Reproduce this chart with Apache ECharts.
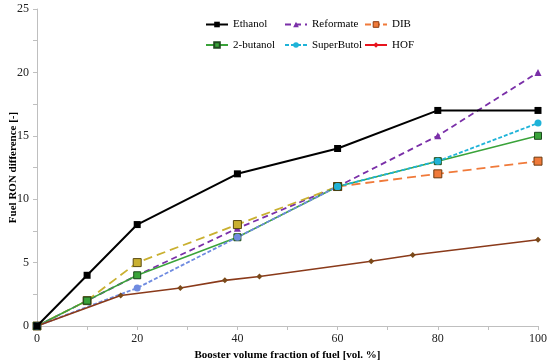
<!DOCTYPE html>
<html><head><meta charset="utf-8">
<script src="https://cdn.jsdelivr.net/npm/echarts@6/dist/echarts.min.js"></script>
<style>html,body{margin:0;padding:0;background:#fff}#c{width:550px;height:362px}</style>
</head><body><div id="c"></div>
<script>
var fractions = [0, 10, 20, 40, 60, 80, 100];
var ethanol = [0, 4, 8, 12, 14, 17, 17];
var reformate = [0, 2, 4, 7.7, 11, 15, 20];
var dib = [0, 2, 5, 8, 11, 12, 13];
var butanol2 = [0, 2, 4, 7, 11, 13, 15];
var superFractions = [0, 20, 40, 60, 80, 100];
var superButol = [0, 3, 7, 11, 13, 16];
var hofFractions = [0, 16.7, 28.6, 37.5, 44.4, 66.7, 75, 100];
var hof = [0, 2.4, 3, 3.6, 3.9, 5.1, 5.6, 6.8];
var xTicks = [0, 20, 40, 60, 80, 100];
var yTicks = [0, 5, 10, 15, 20, 25];

function pairs(xs, ys){ return xs.map(function(x,i){return [x, ys[i]];}); }
function upTo(xs, ys, lim){ return pairs(xs, ys).filter(function(p){return p[0] <= lim;}); }
function from(xs, ys, lim){ return pairs(xs, ys).filter(function(p){return p[0] >= lim;}); }
var serif = 'Liberation Serif';

var chart = echarts.init(document.getElementById('c'));
var legendText = {fontFamily: serif, fontSize: 11, color: '#000'};
function col(left, names){
  return {orient:'vertical', left:left, top:14, itemWidth:22, itemHeight:7, itemGap:9.5,
    textStyle: legendText, data: names, selectedMode:false};
}
chart.setOption({
  animation:false,
  grid:{left:37, right:12, top:9, bottom:36, outerBoundsMode:'none', containLabel:false},
  legend:[
    col(200, ['Ethanol','2-butanol']),
    col(279, [{name:'Reformate'}, {name:'SuperButol', itemStyle:{color:'#1fb3d8'}, lineStyle:{color:'#1fb3d8', type:[4,2]}}]),
    col(359, [{name:'DIB', itemStyle:{color:'#f07a3a', borderColor:'#8a3b10', borderWidth:1}, lineStyle:{color:'#f07a3a', type:[6,3]}},
              {name:'HOF', itemStyle:{color:'#e8141e'}, lineStyle:{color:'#e8141e'}}])
  ],
  xAxis:{type:'value', min:0, max:100, interval:10,
    name:'Booster volume fraction of fuel [vol. %]', nameLocation:'middle', nameGap:24, nameMoveOverlap:false,
    nameTextStyle:{fontFamily:serif, fontWeight:'bold', fontSize:11, color:'#000'},
    axisLine:{lineStyle:{color:'#bfbfbf'}}, axisTick:{length:4, lineStyle:{color:'#bfbfbf'}},
    splitLine:{show:false},
    axisLabel:{fontFamily:serif, fontSize:12, color:'#222', margin:7,
      formatter:function(v){return xTicks.indexOf(v)>=0 ? String(v) : '';}}},
  yAxis:{type:'value', min:0, max:25, interval:2.5,
    name:'Fuel RON difference [-]', nameLocation:'middle', nameGap:18, nameMoveOverlap:false,
    nameTextStyle:{fontFamily:serif, fontWeight:'bold', fontSize:11, color:'#000'},
    axisLine:{show:true, lineStyle:{color:'#bfbfbf'}}, axisTick:{show:true, length:4, lineStyle:{color:'#bfbfbf'}},
    splitLine:{show:false},
    axisLabel:{fontFamily:serif, fontSize:12, color:'#222', margin:8,
      formatter:function(v){return yTicks.indexOf(v)>=0 ? String(v) : '';}}},
  series:[
    {name:'Ethanol', type:'line', data:pairs(fractions, ethanol), color:'#000',
     symbol:'rect', symbolSize:7, lineStyle:{width:2, color:'#000'}, itemStyle:{color:'#000'}, z:5},
    {name:'Reformate', type:'line', data:pairs(fractions, reformate), color:'#7a2fa8',
     symbol:'triangle', symbolSize:7, lineStyle:{width:1.8, type:[6,4], color:'#7a2fa8'}, itemStyle:{color:'#7a2fa8'}, z:3},
    {name:'DIB', type:'line', data:upTo(fractions, dib, 60), color:'#c9b030',
     symbol:'rect', symbolSize:8, lineStyle:{width:1.8, type:[9,5], color:'#c9b030'},
     itemStyle:{color:'#c9b030', borderColor:'#5a4a10', borderWidth:1}, z:4},
    {name:'DIB', type:'line', data:from(fractions, dib, 60), color:'#f07a3a',
     symbol:'rect', symbolSize:8, lineStyle:{width:1.8, type:[9,5], color:'#f07a3a'},
     itemStyle:{color:'#f07a3a', borderColor:'#6b3b10', borderWidth:1}, z:4},
    {name:'2-butanol', type:'line', data:pairs(fractions, butanol2), color:'#3aa33a',
     symbol:'rect', symbolSize:7, lineStyle:{width:1.5, color:'#3aa33a'}, itemStyle:{color:'#3aa33a', borderColor:'#1e4a1e', borderWidth:1}, z:4},
    {name:'SuperButol', type:'line', data:upTo(superFractions, superButol, 60), color:'#6f8be0',
     symbol:'circle', symbolSize:7, lineStyle:{width:1.8, type:[4,2], color:'#6f8be0'}, itemStyle:{color:'#6f8be0'}, z:4},
    {name:'SuperButol', type:'line', data:from(superFractions, superButol, 60), color:'#1fb3d8',
     symbol:'circle', symbolSize:7, lineStyle:{width:1.8, type:[4,2], color:'#1fb3d8'}, itemStyle:{color:'#1fb3d8'}, z:4},
    {name:'HOF', type:'line', data:pairs(hofFractions, hof), color:'#8a3a1a',
     symbol:'diamond', symbolSize:6, lineStyle:{width:1.6, color:'#8a3a1a'}, itemStyle:{color:'#7a4a1a'}, z:4}
  ]
});
</script></body></html>
